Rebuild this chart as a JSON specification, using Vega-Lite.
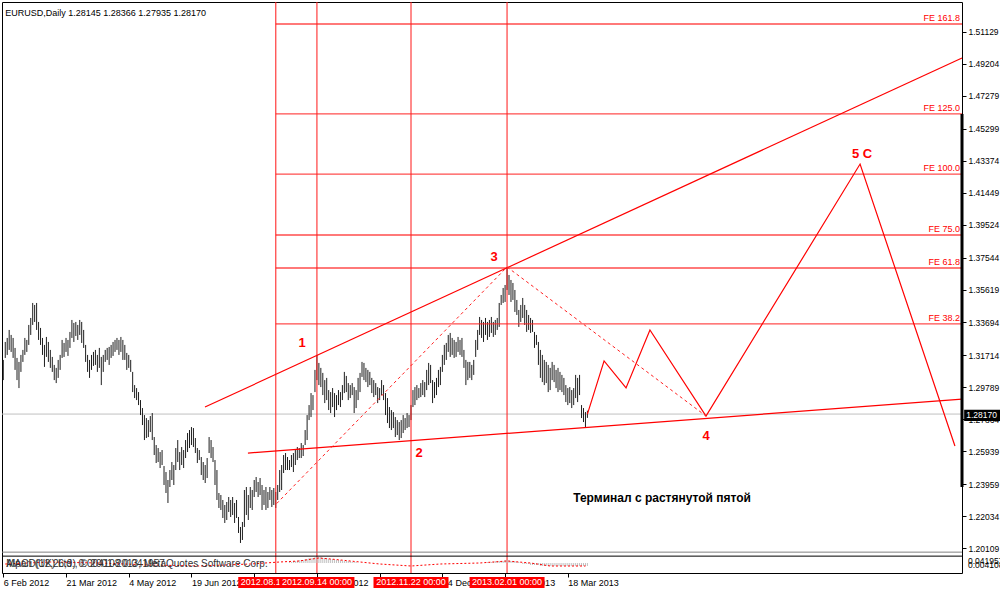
{
"$schema":"https://vega.github.io/schema/vega-lite/v6.json",
"width":960,"height":571,
"autosize":{"type":"none"},
"padding":{"left":2,"top":2,"right":38,"bottom":17},
"background":"white",
"config":{"view":{"stroke":"#000","strokeWidth":1},"font":"Liberation Sans","axis":{"labelFont":"Liberation Sans","labelOverlap":false,"labelSeparation":0,"labelBound":false,"labelFlush":false}},
"datasets":{
"one":[{}],
"bars":[
{"b":0,"h":1.3142,"l":1.3021},{"b":1,"h":1.3250,"l":1.3154},{"b":2,"h":1.3274,"l":1.3172},{"b":3,"h":1.3322,"l":1.3202},{"b":4,"h":1.3292,"l":1.3190},{"b":5,"h":1.3274,"l":1.3154},{"b":6,"h":1.3214,"l":1.3082},{"b":7,"h":1.3154,"l":1.3021},{"b":8,"h":1.3130,"l":1.2973},{"b":9,"h":1.3172,"l":1.3070},
{"b":10,"h":1.3202,"l":1.3130},{"b":11,"h":1.3274,"l":1.3172},{"b":12,"h":1.3262,"l":1.3190},{"b":13,"h":1.3352,"l":1.3232},{"b":14,"h":1.3394,"l":1.3292},{"b":15,"h":1.3484,"l":1.3352},{"b":16,"h":1.3472,"l":1.3370},{"b":17,"h":1.3484,"l":1.3322},{"b":18,"h":1.3370,"l":1.3262},{"b":19,"h":1.3334,"l":1.3232},
{"b":20,"h":1.3274,"l":1.3172},{"b":21,"h":1.3232,"l":1.3100},{"b":22,"h":1.3280,"l":1.3160},{"b":23,"h":1.3250,"l":1.3130},{"b":24,"h":1.3202,"l":1.3094},{"b":25,"h":1.3160,"l":1.3070},{"b":26,"h":1.3112,"l":1.3021},{"b":27,"h":1.3094,"l":1.3003},{"b":28,"h":1.3142,"l":1.3034},{"b":29,"h":1.3172,"l":1.3082},
{"b":30,"h":1.3262,"l":1.3154},{"b":31,"h":1.3244,"l":1.3160},{"b":32,"h":1.3274,"l":1.3190},{"b":33,"h":1.3262,"l":1.3166},{"b":34,"h":1.3310,"l":1.3214},{"b":35,"h":1.3382,"l":1.3274},{"b":36,"h":1.3364,"l":1.3250},{"b":37,"h":1.3370,"l":1.3286},{"b":38,"h":1.3352,"l":1.3262},{"b":39,"h":1.3382,"l":1.3292},
{"b":40,"h":1.3370,"l":1.3244},{"b":41,"h":1.3322,"l":1.3214},{"b":42,"h":1.3232,"l":1.3130},{"b":43,"h":1.3172,"l":1.3070},{"b":44,"h":1.3142,"l":1.3034},{"b":45,"h":1.3172,"l":1.3082},{"b":46,"h":1.3190,"l":1.3106},{"b":47,"h":1.3202,"l":1.3112},{"b":48,"h":1.3172,"l":1.3070},{"b":49,"h":1.3214,"l":1.3094},
{"b":50,"h":1.3160,"l":1.2991},{"b":51,"h":1.3172,"l":1.3070},{"b":52,"h":1.3202,"l":1.3130},{"b":53,"h":1.3214,"l":1.3142},{"b":54,"h":1.3220,"l":1.3112},{"b":55,"h":1.3232,"l":1.3154},{"b":56,"h":1.3250,"l":1.3166},{"b":57,"h":1.3262,"l":1.3190},{"b":58,"h":1.3274,"l":1.3202},{"b":59,"h":1.3262,"l":1.3172},
{"b":60,"h":1.3280,"l":1.3190},{"b":61,"h":1.3262,"l":1.3142},{"b":62,"h":1.3232,"l":1.3142},{"b":63,"h":1.3184,"l":1.3082},{"b":64,"h":1.3172,"l":1.3094},{"b":65,"h":1.3142,"l":1.3070},{"b":66,"h":1.3070,"l":1.2949},{"b":67,"h":1.2991,"l":1.2913},{"b":68,"h":1.2973,"l":1.2901},{"b":69,"h":1.2949,"l":1.2871},
{"b":70,"h":1.2901,"l":1.2811},{"b":71,"h":1.2853,"l":1.2751},{"b":72,"h":1.2811,"l":1.2661},{"b":73,"h":1.2793,"l":1.2673},{"b":74,"h":1.2781,"l":1.2679},{"b":75,"h":1.2805,"l":1.2709},{"b":76,"h":1.2823,"l":1.2661},{"b":77,"h":1.2679,"l":1.2571},{"b":78,"h":1.2631,"l":1.2523},{"b":79,"h":1.2613,"l":1.2529},
{"b":80,"h":1.2589,"l":1.2493},{"b":81,"h":1.2601,"l":1.2511},{"b":82,"h":1.2505,"l":1.2391},{"b":83,"h":1.2469,"l":1.2343},{"b":84,"h":1.2421,"l":1.2283},{"b":85,"h":1.2481,"l":1.2379},{"b":86,"h":1.2529,"l":1.2421},{"b":87,"h":1.2511,"l":1.2391},{"b":88,"h":1.2613,"l":1.2481},{"b":89,"h":1.2661,"l":1.2529},
{"b":90,"h":1.2589,"l":1.2481},{"b":91,"h":1.2619,"l":1.2511},{"b":92,"h":1.2601,"l":1.2493},{"b":93,"h":1.2661,"l":1.2553},{"b":94,"h":1.2703,"l":1.2589},{"b":95,"h":1.2721,"l":1.2613},{"b":96,"h":1.2739,"l":1.2631},{"b":97,"h":1.2733,"l":1.2619},{"b":98,"h":1.2673,"l":1.2583},{"b":99,"h":1.2613,"l":1.2523},
{"b":100,"h":1.2601,"l":1.2541},{"b":101,"h":1.2559,"l":1.2451},{"b":102,"h":1.2529,"l":1.2421},{"b":103,"h":1.2511,"l":1.2403},{"b":104,"h":1.2553,"l":1.2433},{"b":105,"h":1.2679,"l":1.2583},{"b":106,"h":1.2661,"l":1.2553},{"b":107,"h":1.2619,"l":1.2529},{"b":108,"h":1.2541,"l":1.2391},{"b":109,"h":1.2481,"l":1.2301},
{"b":110,"h":1.2343,"l":1.2253},{"b":111,"h":1.2331,"l":1.2241},{"b":112,"h":1.2301,"l":1.2193},{"b":113,"h":1.2271,"l":1.2163},{"b":114,"h":1.2289,"l":1.2181},{"b":115,"h":1.2319,"l":1.2229},{"b":116,"h":1.2301,"l":1.2199},{"b":117,"h":1.2319,"l":1.2211},{"b":118,"h":1.2283,"l":1.2163},{"b":119,"h":1.2301,"l":1.2193},
{"b":120,"h":1.2199,"l":1.2103},{"b":121,"h":1.2139,"l":1.2043},{"b":122,"h":1.2169,"l":1.2061},{"b":123,"h":1.2361,"l":1.2139},{"b":124,"h":1.2379,"l":1.2211},{"b":125,"h":1.2331,"l":1.2181},{"b":126,"h":1.2379,"l":1.2253},{"b":127,"h":1.2361,"l":1.2241},{"b":128,"h":1.2421,"l":1.2319},{"b":129,"h":1.2439,"l":1.2349},
{"b":130,"h":1.2409,"l":1.2319},{"b":131,"h":1.2433,"l":1.2331},{"b":132,"h":1.2391,"l":1.2241},{"b":133,"h":1.2361,"l":1.2271},{"b":134,"h":1.2379,"l":1.2241},{"b":135,"h":1.2349,"l":1.2253},{"b":136,"h":1.2379,"l":1.2301},{"b":137,"h":1.2361,"l":1.2259},{"b":138,"h":1.2373,"l":1.2271},{"b":139,"h":1.2349,"l":1.2253},
{"b":140,"h":1.2391,"l":1.2301},{"b":141,"h":1.2481,"l":1.2349},{"b":142,"h":1.2511,"l":1.2361},{"b":143,"h":1.2571,"l":1.2463},{"b":144,"h":1.2583,"l":1.2481},{"b":145,"h":1.2559,"l":1.2481},{"b":146,"h":1.2541,"l":1.2481},{"b":147,"h":1.2571,"l":1.2499},{"b":148,"h":1.2583,"l":1.2469},{"b":149,"h":1.2601,"l":1.2511},
{"b":150,"h":1.2619,"l":1.2541},{"b":151,"h":1.2613,"l":1.2553},{"b":152,"h":1.2643,"l":1.2553},{"b":153,"h":1.2631,"l":1.2565},{"b":154,"h":1.2721,"l":1.2631},{"b":155,"h":1.2811,"l":1.2661},{"b":156,"h":1.2871,"l":1.2781},{"b":157,"h":1.2943,"l":1.2799},{"b":158,"h":1.2931,"l":1.2841},{"b":159,"h":1.3082,"l":1.2949},
{"b":160,"h":1.3172,"l":1.3021},{"b":161,"h":1.3124,"l":1.2991},{"b":162,"h":1.3094,"l":1.2979},{"b":163,"h":1.3064,"l":1.2931},{"b":164,"h":1.3021,"l":1.2883},{"b":165,"h":1.3034,"l":1.2901},{"b":166,"h":1.2961,"l":1.2841},{"b":167,"h":1.2949,"l":1.2823},{"b":168,"h":1.2973,"l":1.2859},{"b":169,"h":1.2943,"l":1.2799},
{"b":170,"h":1.2931,"l":1.2841},{"b":171,"h":1.2961,"l":1.2871},{"b":172,"h":1.2949,"l":1.2859},{"b":173,"h":1.2991,"l":1.2901},{"b":174,"h":1.3070,"l":1.2943},{"b":175,"h":1.3046,"l":1.2949},{"b":176,"h":1.3003,"l":1.2901},{"b":177,"h":1.2991,"l":1.2913},{"b":178,"h":1.3003,"l":1.2931},{"b":179,"h":1.2979,"l":1.2823},
{"b":180,"h":1.2961,"l":1.2853},{"b":181,"h":1.3034,"l":1.2901},{"b":182,"h":1.3064,"l":1.2949},{"b":183,"h":1.3130,"l":1.3040},{"b":184,"h":1.3124,"l":1.3021},{"b":185,"h":1.3094,"l":1.3009},{"b":186,"h":1.3082,"l":1.2979},{"b":187,"h":1.3070,"l":1.2991},{"b":188,"h":1.3034,"l":1.2943},{"b":189,"h":1.3021,"l":1.2919},
{"b":190,"h":1.3003,"l":1.2931},{"b":191,"h":1.2979,"l":1.2883},{"b":192,"h":1.2973,"l":1.2901},{"b":193,"h":1.3021,"l":1.2931},{"b":194,"h":1.2991,"l":1.2901},{"b":195,"h":1.2943,"l":1.2811},{"b":196,"h":1.2913,"l":1.2763},{"b":197,"h":1.2859,"l":1.2733},{"b":198,"h":1.2841,"l":1.2721},{"b":199,"h":1.2829,"l":1.2733},
{"b":200,"h":1.2799,"l":1.2679},{"b":201,"h":1.2781,"l":1.2691},{"b":202,"h":1.2769,"l":1.2661},{"b":203,"h":1.2781,"l":1.2673},{"b":204,"h":1.2811,"l":1.2703},{"b":205,"h":1.2793,"l":1.2721},{"b":206,"h":1.2823,"l":1.2733},{"b":207,"h":1.2811,"l":1.2739},{"b":208,"h":1.2871,"l":1.2781},{"b":209,"h":1.2961,"l":1.2859},
{"b":210,"h":1.2979,"l":1.2871},{"b":211,"h":1.2991,"l":1.2901},{"b":212,"h":1.2973,"l":1.2913},{"b":213,"h":1.3003,"l":1.2919},{"b":214,"h":1.3021,"l":1.2931},{"b":215,"h":1.3009,"l":1.2919},{"b":216,"h":1.3082,"l":1.2961},{"b":217,"h":1.3124,"l":1.2991},{"b":218,"h":1.3112,"l":1.3003},{"b":219,"h":1.3021,"l":1.2883},
{"b":220,"h":1.3009,"l":1.2913},{"b":221,"h":1.3034,"l":1.2931},{"b":222,"h":1.3082,"l":1.2979},{"b":223,"h":1.3100,"l":1.2991},{"b":224,"h":1.3172,"l":1.3070},{"b":225,"h":1.3232,"l":1.3112},{"b":226,"h":1.3244,"l":1.3142},{"b":227,"h":1.3292,"l":1.3190},{"b":228,"h":1.3304,"l":1.3160},{"b":229,"h":1.3274,"l":1.3172},
{"b":230,"h":1.3262,"l":1.3154},{"b":231,"h":1.3250,"l":1.3160},{"b":232,"h":1.3280,"l":1.3190},{"b":233,"h":1.3262,"l":1.3172},{"b":234,"h":1.3274,"l":1.3160},{"b":235,"h":1.3202,"l":1.3094},{"b":236,"h":1.3142,"l":1.2991},{"b":237,"h":1.3130,"l":1.3021},{"b":238,"h":1.3130,"l":1.3034},{"b":239,"h":1.3112,"l":1.3021},
{"b":240,"h":1.3142,"l":1.3052},{"b":241,"h":1.3262,"l":1.3160},{"b":242,"h":1.3322,"l":1.3202},{"b":243,"h":1.3400,"l":1.3292},{"b":244,"h":1.3382,"l":1.3274},{"b":245,"h":1.3370,"l":1.3250},{"b":246,"h":1.3394,"l":1.3292},{"b":247,"h":1.3370,"l":1.3262},{"b":248,"h":1.3382,"l":1.3280},{"b":249,"h":1.3400,"l":1.3304},
{"b":250,"h":1.3370,"l":1.3280},{"b":251,"h":1.3382,"l":1.3292},{"b":252,"h":1.3394,"l":1.3322},{"b":253,"h":1.3484,"l":1.3340},{"b":254,"h":1.3532,"l":1.3472},{"b":255,"h":1.3574,"l":1.3484},{"b":256,"h":1.3592,"l":1.3490},{"b":257,"h":1.3700,"l":1.3562},{"b":258,"h":1.3652,"l":1.3532},{"b":259,"h":1.3622,"l":1.3490},
{"b":260,"h":1.3604,"l":1.3502},{"b":261,"h":1.3562,"l":1.3430},{"b":262,"h":1.3502,"l":1.3412},{"b":263,"h":1.3442,"l":1.3340},{"b":264,"h":1.3472,"l":1.3370},{"b":265,"h":1.3514,"l":1.3394},{"b":266,"h":1.3472,"l":1.3352},{"b":267,"h":1.3442,"l":1.3310},{"b":268,"h":1.3412,"l":1.3322},{"b":269,"h":1.3394,"l":1.3304},
{"b":270,"h":1.3382,"l":1.3310},{"b":271,"h":1.3310,"l":1.3214},{"b":272,"h":1.3292,"l":1.3232},{"b":273,"h":1.3250,"l":1.3112},{"b":274,"h":1.3202,"l":1.3034},{"b":275,"h":1.3172,"l":1.3009},{"b":276,"h":1.3142,"l":1.2991},{"b":277,"h":1.3130,"l":1.3003},{"b":278,"h":1.3112,"l":1.2949},{"b":279,"h":1.3094,"l":1.2961},
{"b":280,"h":1.3130,"l":1.3021},{"b":281,"h":1.3112,"l":1.3009},{"b":282,"h":1.3082,"l":1.2973},{"b":283,"h":1.3094,"l":1.2949},{"b":284,"h":1.3070,"l":1.2961},{"b":285,"h":1.3052,"l":1.2949},{"b":286,"h":1.3034,"l":1.2931},{"b":287,"h":1.2991,"l":1.2889},{"b":288,"h":1.2973,"l":1.2871},{"b":289,"h":1.2979,"l":1.2883},
{"b":290,"h":1.2961,"l":1.2853},{"b":291,"h":1.2973,"l":1.2871},{"b":292,"h":1.3052,"l":1.2913},{"b":293,"h":1.3034,"l":1.2889},{"b":294,"h":1.3052,"l":1.2931},{"b":295,"h":1.2871,"l":1.2793},{"b":296,"h":1.2853,"l":1.2769},{"b":297,"h":1.2829,"l":1.2739},{"b":298,"h":1.2837,"l":1.2794}
],
"lines":[
{"g":"up","b":102.9,"p":1.2859},{"g":"up","b":489.1,"p":1.4955},
{"g":"lo","b":124.8,"p":1.2583},{"g":"lo","b":489.1,"p":1.2907},
{"g":"zz","b":298,"p":1.2817},{"g":"zz","b":306.5,"p":1.3136},{"g":"zz","b":317.7,"p":1.2974},{"g":"zz","b":329.9,"p":1.3322},{"g":"zz","b":358.5,"p":1.2805},{"g":"zz","b":437.1,"p":1.4318},{"g":"zz","b":485.5,"p":1.2625}
],
"dashed":[
{"g":"d1","b":139.5,"p":1.2280},{"g":"d1","b":257,"p":1.3700},
{"g":"d2","b":257,"p":1.3700},{"g":"d2","b":358.5,"p":1.2805}
],
"fe":[
{"t":"FE 161.8","p":1.5159},{"t":"FE 125.0","p":1.4619},{"t":"FE 100.0","p":1.4258},{"t":"FE 75.0","p":1.3892},{"t":"FE 61.8","p":1.3694},{"t":"FE 38.2","p":1.3358}
],
"vlines":[
{"b":139,"t":"2012.08.16 00:00"},{"b":160,"t":"2012.09.14 00:00"},{"b":208,"t":"2012.11.22 00:00"},{"b":257,"t":"2013.02.01 00:00"}
],
"waves":[
{"t":"1","b":152.4,"p":1.3244},{"t":"2","b":212.1,"p":1.2583},{"t":"3","b":250.4,"p":1.3760},{"t":"4","b":358.5,"p":1.2685},{"t":"5  C","b":438.1,"p":1.4379}
],
"sig":[
{"b":1,"v":-0.001},{"b":24,"v":0.001},{"b":49,"v":0.0},{"b":75,"v":-0.002},{"b":100,"v":-0.003},{"b":126,"v":-0.001},{"b":141,"v":0.001},{"b":151,"v":0.002},{"b":161,"v":0.005},{"b":167,"v":0.004},{"b":177,"v":0.002},{"b":192,"v":-0.001},{"b":208,"v":-0.003},{"b":223,"v":-0.001},{"b":243,"v":0.0},{"b":257,"v":0.002},{"b":269,"v":0.0},{"b":279,"v":-0.003},{"b":297,"v":-0.003}
],
"hist":[
{"b":146,"m":0.001},{"b":147,"m":0.001},{"b":148,"m":0.002},{"b":149,"m":0.002},{"b":150,"m":0.002},{"b":151,"m":0.003},{"b":152,"m":0.003},{"b":153,"m":0.003},{"b":154,"m":0.004},{"b":155,"m":0.004},{"b":156,"m":0.005},{"b":157,"m":0.005},{"b":158,"m":0.005},{"b":159,"m":0.006},{"b":160,"m":0.006},{"b":161,"m":0.006},{"b":162,"m":0.006},{"b":163,"m":0.005},{"b":164,"m":0.005},{"b":165,"m":0.005},{"b":166,"m":0.004},{"b":167,"m":0.004},{"b":168,"m":0.004},{"b":169,"m":0.003},{"b":170,"m":0.003},{"b":171,"m":0.003},{"b":172,"m":0.003},{"b":173,"m":0.002},{"b":174,"m":0.002},{"b":175,"m":0.002},{"b":176,"m":0.002},{"b":177,"m":0.002},{"b":178,"m":0.001},{"b":179,"m":0.001},{"b":180,"m":0.001},
{"b":246,"m":0.001},{"b":247,"m":0.001},{"b":248,"m":0.001},{"b":249,"m":0.001},{"b":250,"m":0.001},{"b":251,"m":0.002},{"b":252,"m":0.002},{"b":253,"m":0.002},{"b":254,"m":0.002},{"b":255,"m":0.002},{"b":256,"m":0.003},{"b":257,"m":0.003},{"b":258,"m":0.003},{"b":259,"m":0.002},{"b":260,"m":0.002},{"b":261,"m":0.002},{"b":262,"m":0.001},{"b":263,"m":0.001},{"b":265,"m":-0.001},{"b":266,"m":-0.001},{"b":267,"m":-0.001},{"b":268,"m":-0.001},{"b":269,"m":-0.002},{"b":270,"m":-0.002},{"b":271,"m":-0.002},{"b":272,"m":-0.002},{"b":273,"m":-0.002},{"b":274,"m":-0.003},{"b":275,"m":-0.003},{"b":276,"m":-0.003},{"b":277,"m":-0.003},{"b":278,"m":-0.003},{"b":279,"m":-0.003},{"b":280,"m":-0.003},{"b":281,"m":-0.003},{"b":282,"m":-0.003},{"b":283,"m":-0.003},{"b":284,"m":-0.003},{"b":285,"m":-0.003},{"b":286,"m":-0.003},{"b":287,"m":-0.003},{"b":288,"m":-0.003},{"b":289,"m":-0.003},{"b":290,"m":-0.003},{"b":291,"m":-0.003},{"b":292,"m":-0.003},{"b":293,"m":-0.003},{"b":294,"m":-0.003},{"b":295,"m":-0.003},{"b":296,"m":-0.003},{"b":297,"m":-0.003},{"b":298,"m":-0.003}
]
},
"layer":[
{"layer":[
{"data":{"name":"one"},"mark":{"type":"rule","color":"#c0c0c0","strokeWidth":1},
 "encoding":{"y":{"datum":1.2817,"type":"quantitative","scale":{"domain":[1.18627,1.5291],"nice":false,"zero":false},
   "axis":{"orient":"right","title":null,"values":[1.51129,1.49204,1.47279,1.45299,1.43374,1.41449,1.39524,1.37544,1.35619,1.33694,1.31714,1.29789,1.27864,1.25939,1.23959,1.22034,1.20109],
    "tickCount":40,"format":".5f","tickSize":4,"tickColor":"#000","labelPadding":2,"domain":false,"grid":false,"labelFontSize":8.5,"labelColor":"#000",
    "labelOverlap":false,"labelBound":false,"labelFlush":false,"labelBaseline":"middle","labelSeparation":0}}}},
{"data":{"name":"bars"},"mark":{"type":"rule","color":"#1e1e1e","strokeWidth":1},
 "encoding":{
  "x":{"field":"b","type":"quantitative","scale":{"domain":[-0.66,489.1],"nice":false,"zero":false},
   "axis":{"orient":"bottom","title":null,"values":[0,32,64,96,128,160,192,224,256,288],"tickCount":40,
    "labelExpr":"['6 Feb 2012','21 Mar 2012','4 May 2012','19 Jun 2012','31 Jul 2012','14 Sep 2012','30 Oct 2012','14 Dec 2012','31 Jan 2013','18 Mar 2013'][round(datum.value/32)]",
    "labelAlign":"left","labelBaseline":"top","labelPadding":1,"tickSize":4,"tickColor":"#000","domain":false,"grid":false,
    "labelFontSize":9,"labelColor":"#000","labelOverlap":false,"labelFlush":false,"labelBound":false}},
  "y":{"field":"l","type":"quantitative"},
  "y2":{"field":"h"}}},
{"data":{"name":"fe"},"mark":{"type":"rule","color":"#ff2020","strokeWidth":1.3,"opacity":0.8},
 "encoding":{"x":{"datum":139,"type":"quantitative"},"x2":{"datum":489.1},
 "y":{"field":"p","type":"quantitative"}}},
{"data":{"name":"vlines"},"mark":{"type":"rule","color":"#ff1a1a","strokeWidth":1.2,"opacity":0.85},
 "encoding":{"x":{"field":"b","type":"quantitative"}}},
{"data":{"name":"lines"},"mark":{"type":"line","color":"#ff0000","strokeWidth":1.2},
 "encoding":{"x":{"field":"b","type":"quantitative"},"y":{"field":"p","type":"quantitative"},"detail":{"field":"g","type":"nominal"}}},
{"data":{"name":"dashed"},"mark":{"type":"line","color":"#ff2020","strokeWidth":1,"strokeDash":[3,3]},
 "encoding":{"x":{"field":"b","type":"quantitative"},"y":{"field":"p","type":"quantitative"},"detail":{"field":"g","type":"nominal"}}},
{"data":{"name":"waves"},"mark":{"type":"text","color":"#ff0000","fontSize":13,"fontWeight":"bold","font":"Liberation Sans","align":"center","baseline":"middle"},
 "encoding":{"x":{"field":"b","type":"quantitative"},"y":{"field":"p","type":"quantitative"},"text":{"field":"t","type":"nominal"}}},
{"data":{"name":"fe"},"mark":{"type":"text","color":"#ff0000","fontSize":9,"font":"Liberation Sans","align":"right","baseline":"bottom","dx":-2,"dy":-1},
 "encoding":{"x":{"datum":489.1,"type":"quantitative"},"y":{"field":"p","type":"quantitative"},"text":{"field":"t","type":"nominal"}}},
{"data":{"name":"one"},"mark":{"type":"text","color":"#000","fontSize":12,"fontWeight":"bold","font":"Liberation Sans","align":"center","baseline":"middle","text":"Терминал с растянутой пятой"},
 "encoding":{"x":{"datum":336.1,"type":"quantitative"},"y":{"datum":1.2313,"type":"quantitative"}}},
{"data":{"name":"one"},"mark":{"type":"text","color":"#000","fontSize":9,"font":"Liberation Sans","align":"left","baseline":"middle","dx":2,"text":"EURUSD,Daily  1.28145 1.28366 1.27935 1.28170"},
 "encoding":{"x":{"datum":0,"type":"quantitative"},"y":{"datum":1.5225,"type":"quantitative"}}},
{"data":{"name":"one"},"mark":{"type":"rule","color":"#808080","strokeWidth":1},
 "encoding":{"y":{"datum":1.1988,"type":"quantitative"}}},
{"data":{"name":"one"},"mark":{"type":"rule","color":"#000","strokeWidth":1},
 "encoding":{"y":{"datum":1.1964,"type":"quantitative"}}},
{"data":{"name":"one"},"mark":{"type":"rule","color":"#000","strokeWidth":3},
 "encoding":{"x":{"datum":489.1,"type":"quantitative"},"y":{"datum":1.4619,"type":"quantitative"},"y2":{"datum":1.2379}}},
{"data":{"name":"one"},"mark":{"type":"rect","color":"#000"},
 "encoding":{"x":{"datum":490.2,"type":"quantitative"},"x2":{"datum":510},"y":{"datum":1.2843,"type":"quantitative"},"y2":{"datum":1.2775}}},
{"data":{"name":"one"},"mark":{"type":"text","color":"#fff","fontSize":8.5,"font":"Liberation Sans","align":"left","baseline":"middle","dx":2,"text":"1.28170"},
 "encoding":{"x":{"datum":490.2,"type":"quantitative"},"y":{"datum":1.2809,"type":"quantitative"}}},
{"data":{"name":"vlines"},"transform":[{"filter":"datum.b == 139"}],"mark":{"type":"point","shape":"M-1,-0.147L1,-0.147L1,0.147L-1,0.147Z","size":5625,"filled":true,"color":"#ff0000","opacity":1,"strokeWidth":0},
 "encoding":{"x":{"field":"b","type":"quantitative"},"y":{"datum":1.1806,"type":"quantitative"}}},
{"data":{"name":"vlines"},"transform":[{"filter":"datum.b == 139"}],"mark":{"type":"text","color":"#fff","fontSize":9,"font":"Liberation Sans","align":"center","baseline":"middle"},
 "encoding":{"x":{"field":"b","type":"quantitative"},"y":{"datum":1.1806,"type":"quantitative"},"text":{"field":"t","type":"nominal"}}},
{"data":{"name":"vlines"},"transform":[{"filter":"datum.b != 139"}],"mark":{"type":"point","shape":"M-1,-0.147L1,-0.147L1,0.147L-1,0.147Z","size":5625,"filled":true,"color":"#ff0000","opacity":1,"strokeWidth":0},
 "encoding":{"x":{"field":"b","type":"quantitative"},"y":{"datum":1.1806,"type":"quantitative"}}},
{"data":{"name":"vlines"},"transform":[{"filter":"datum.b != 139"}],"mark":{"type":"text","color":"#fff","fontSize":9,"font":"Liberation Sans","align":"center","baseline":"middle"},
 "encoding":{"x":{"field":"b","type":"quantitative"},"y":{"datum":1.1806,"type":"quantitative"},"text":{"field":"t","type":"nominal"}}}
]},
{"layer":[
{"data":{"name":"hist"},"mark":{"type":"rule","color":"#c0c0c0","strokeWidth":1},
 "encoding":{"x":{"field":"b","type":"quantitative"},
  "y":{"field":"m","type":"quantitative","scale":{"domain":[-0.010,0.561],"nice":false,"zero":false},"axis":null},"y2":{"datum":0}}},
{"data":{"name":"sig"},"mark":{"type":"line","color":"#ff0000","strokeWidth":1,"strokeDash":[2,2]},
 "encoding":{"x":{"field":"b","type":"quantitative"},"y":{"field":"v","type":"quantitative","axis":null}}},
{"data":{"name":"one"},"mark":{"type":"text","color":"#333","fontSize":10,"font":"Liberation Sans","align":"left","baseline":"middle","dx":3,"text":"Alpari (UK) Ltd., © 2001-2013, MetaQuotes Software Corp."},
 "encoding":{"x":{"datum":0,"type":"quantitative"},"y":{"datum":-0.001,"type":"quantitative","axis":null}}},
{"data":{"name":"one"},"mark":{"type":"text","color":"#333","fontSize":10,"font":"Liberation Sans","align":"left","baseline":"middle","dx":3,"text":"MACD(12,26,9) 0.004108 0.041957"},
 "encoding":{"x":{"datum":0,"type":"quantitative"},"y":{"datum":-0.001,"type":"quantitative","axis":null}}},
{"data":{"name":"one"},"mark":{"type":"text","color":"#000","fontSize":8.5,"font":"Liberation Sans","align":"left","baseline":"middle","dx":6,"text":"0.041957"},
 "encoding":{"x":{"datum":489.1,"type":"quantitative"},"y":{"datum":0.002,"type":"quantitative","axis":null}}},
{"data":{"name":"one"},"mark":{"type":"text","color":"#000","fontSize":8.5,"font":"Liberation Sans","align":"left","baseline":"middle","dx":6,"text":"0.004108"},
 "encoding":{"x":{"datum":489.1,"type":"quantitative"},"y":{"datum":-0.002,"type":"quantitative","axis":null}}}
]}
],
"resolve":{"scale":{"y":"independent"},"axis":{"y":"independent"}}
}
